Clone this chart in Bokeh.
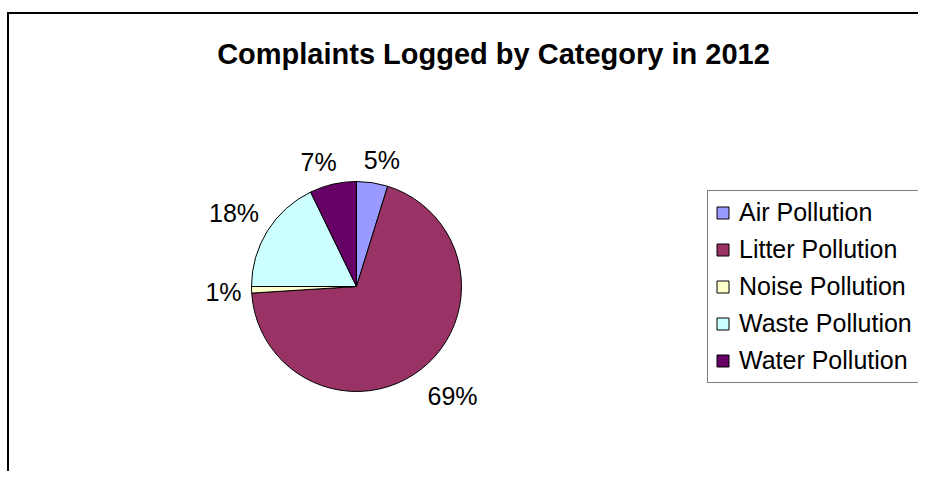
import math
from bokeh.plotting import figure
from bokeh.models import Range1d, Label, Legend, LegendItem, ColumnDataSource
from bokeh.core.properties import value
from bokeh.embed import file_html
from bokeh.resources import INLINE

# ---- data ----
categories = ["Air Pollution", "Litter Pollution", "Noise Pollution", "Waste Pollution", "Water Pollution"]
shares = [4.8, 69.2, 1.0, 17.8, 7.2]
colors = ["#9999FF", "#993366", "#FFFFCC", "#CCFFFF", "#660066"]
title_text = "Complaints Logged by Category in 2012"

# ---- layout (pixels; data units == screen pixels, y measured upward) ----
W, H = 918, 471
CX, CY = 356, 185          # pie centre
R = 105                    # pie radius
FONT = "Liberation Sans"
LABEL_PX = 25

total = sum(shares)
fracs = [s / total for s in shares]
starts, ends, mids = [], [], []
acc = 0.0
for f in fracs:
    a0 = acc
    acc += f
    starts.append(math.pi / 2 - a0 * 2 * math.pi)
    ends.append(math.pi / 2 - acc * 2 * math.pi)
    mids.append((a0 + f / 2) * 2 * math.pi)   # clockwise from 12 o'clock
pct = [f"{round(f * 100)}%" for f in fracs]

src = ColumnDataSource(dict(cat=categories, start=starts, end=ends, color=colors,
                            x=[CX] * len(categories), y=[CY] * len(categories)))

p = figure(width=W, height=H, x_range=Range1d(0, W), y_range=Range1d(0, H),
           output_backend="svg", toolbar_location=None, min_border=0,
           background_fill_color="white", border_fill_color="white")
p.xaxis.visible = False
p.yaxis.visible = False
p.grid.visible = False
p.outline_line_color = None

# chart frame (only its top and left edges fall inside the window)
p.line(x=[7.5, 7.5], y=[0, 459.5], line_color="black", line_width=2)
p.line(x=[6.5, W], y=[458.5, 458.5], line_color="black", line_width=2)

wr = p.wedge(x="x", y="y", radius=R, radius_units="screen", start_angle="start", end_angle="end",
             direction="clock", fill_color="color", line_color="black", line_width=1, source=src)

# percentage labels outside the pie (box corner nearest the pie sits on the ray)
lx, ly = [], []
reach = R + 10
for t, m in zip(pct, mids):
    ux, uy = math.sin(m), math.cos(m)
    w = sum(0.889 if c == "%" else 0.556 for c in t) * LABEL_PX
    h = LABEL_PX
    sx = max(-1.0, min(1.0, 3 * ux))
    sy = max(-1.0, min(1.0, 3 * uy))
    lx.append(CX + reach * ux + sx * w / 2)
    ly.append(CY + reach * uy + sy * h / 2 - 8 * max(0.0, -uy))
p.text(x=lx, y=ly, text=pct, text_align="center", text_baseline="middle",
       text_font=value(FONT), text_font_size=f"{LABEL_PX}px", text_color="black")

# title
p.add_layout(Label(x=493, y=418, text=title_text, text_align="center", text_baseline="alphabetic",
                   text_font=FONT, text_font_size="29px", text_font_style="bold", text_color="black"))

# legend
items = [LegendItem(label=c, renderers=[wr], index=i) for i, c in enumerate(categories)]
leg = Legend(items=items, location=(707, 88), orientation="vertical",
             border_line_color="black", border_line_width=1, background_fill_color="white",
             background_fill_alpha=1, padding=7, spacing=8, margin=0,
             glyph_width=15, glyph_height=15, label_standoff=9, label_height=29,
             label_text_font=FONT, label_text_font_size="25px", label_text_color="black")
p.add_layout(leg)

open("out.html", "w").write(file_html(p, INLINE))
